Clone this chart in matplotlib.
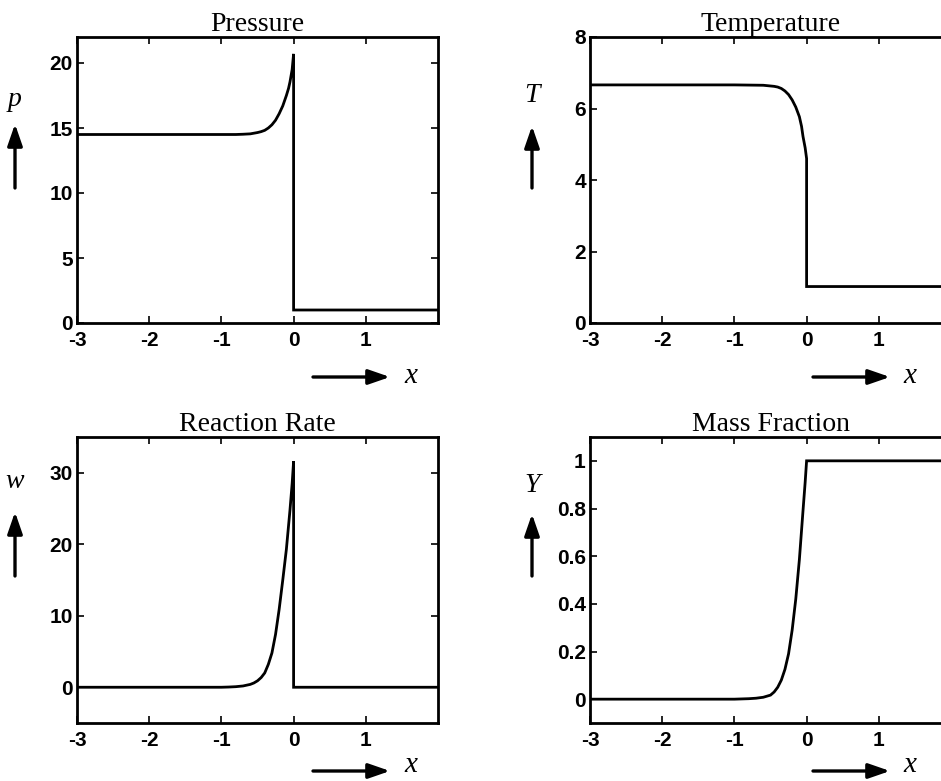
import matplotlib
matplotlib.use("Agg")
import matplotlib.pyplot as plt
from matplotlib.patches import FancyArrowPatch

W, H = 941, 781

# ---- data ----
x_p = [-3.0, -1.0, -0.8, -0.7, -0.6, -0.5, -0.45, -0.4, -0.35, -0.3, -0.25,
       -0.2, -0.15, -0.1, -0.07, -0.05, -0.02, 0.0, 0.0, 2.0]
p_vals = [14.5, 14.5, 14.5, 14.52, 14.55, 14.65, 14.72, 14.82, 15.0, 15.25,
          15.6, 16.1, 16.7, 17.5, 18.05, 18.55, 19.5, 20.7, 1.0, 1.0]

x_T = [-3.0, -1.0, -0.6, -0.5, -0.45, -0.4, -0.35, -0.3, -0.25, -0.2, -0.15,
       -0.1, -0.07, -0.05, -0.02, 0.0, 0.0, 2.0]
T_vals = [6.66, 6.66, 6.65, 6.63, 6.62, 6.6, 6.56, 6.49, 6.39, 6.24, 6.04,
          5.77, 5.5, 5.22, 4.9, 4.6, 1.02, 1.02]

x_w = [-3.0, -1.0, -0.9, -0.8, -0.7, -0.6, -0.55, -0.5, -0.45, -0.4, -0.35,
       -0.3, -0.25, -0.2, -0.15, -0.1, -0.05, -0.02, 0.0, 0.0, 2.0]
w_vals = [0.0, 0.0, 0.03, 0.08, 0.18, 0.4, 0.6, 0.9, 1.35, 2.0, 3.2,
          4.8, 7.4, 10.9, 15.0, 19.3, 24.8, 28.5, 31.6, 0.0, 0.0]

x_Y = [-3.0, -1.0, -0.8, -0.7, -0.6, -0.5, -0.45, -0.4, -0.35, -0.3, -0.25,
       -0.2, -0.15, -0.1, -0.05, -0.02, 0.0, 2.0]
Y_vals = [0.0, 0.0, 0.002, 0.004, 0.008, 0.017, 0.03, 0.05, 0.08, 0.125, 0.19,
          0.29, 0.42, 0.586, 0.79, 0.91, 1.0, 1.0]

titles = ["Pressure", "Temperature", "Reaction Rate", "Mass Fraction"]
ylabels = ["p", "T", "w", "Y"]
xticks = [-3, -2, -1, 0, 1]
yticks_list = [[0, 5, 10, 15, 20], [0, 2, 4, 6, 8], [0, 10, 20, 30],
               [0, 0.2, 0.4, 0.6, 0.8, 1]]
yticklabels_list = [["0", "5", "10", "15", "20"], ["0", "2", "4", "6", "8"],
                    ["0", "10", "20", "30"],
                    ["0", "0.2", "0.4", "0.6", "0.8", "1"]]
ylims = [(0, 22), (0, 8), (-5, 35), (-0.1, 1.1)]

series = [(x_p, p_vals), (x_T, T_vals), (x_w, w_vals), (x_Y, Y_vals)]

fig = plt.figure(figsize=(W / 100, H / 100), dpi=100)


def fx(px):
    return px / W


def fy(py):
    return 1 - py / H


# axes boxes in pixels: left, top, right, bottom
boxes = [(77, 37, 438, 323), (590, 37, 951, 323),
         (77, 437, 438, 723), (590, 437, 951, 723)]
# y label positions (label x,y ; arrow x, y0 (tail), y1 (head))
ylab = [(15, 100, 15, 188, 124), (532, 95, 532, 188, 126),
        (15, 482, 15, 576, 512), (532, 485, 532, 576, 514)]
# x label arrow (x0, x1, y ; label x, label y)
xlab = [(313, 390, 377, 411, 376), (813, 890, 377, 910, 376),
        (313, 390, 771, 411, 765), (813, 890, 771, 910, 765)]

tickfont = {"family": "Liberation Sans", "weight": "bold", "size": 15}
astyle = "-|>,head_length=13,head_width=4.5"

for i in range(4):
    l, t, r, b = boxes[i]
    ax = fig.add_axes([fx(l), fy(b), (r - l) / W, (b - t) / H])
    xs, ys = series[i]
    ax.plot(xs, ys, color="black", lw=2.0, solid_joinstyle="miter")
    ax.set_xlim(-3, 2)
    ax.set_ylim(*ylims[i])
    ax.set_xticks(xticks)
    ax.set_xticklabels([str(v) for v in xticks], fontdict=tickfont)
    ax.set_yticks(yticks_list[i])
    ax.set_yticklabels(yticklabels_list[i], fontdict=tickfont)
    ax.tick_params(direction="in", length=5, width=1.2, top=True, right=True,
                   pad=3)
    ax.tick_params(axis="x", pad=6)
    for s in ax.spines.values():
        s.set_linewidth(2)
    ax.set_title(titles[i], family="Liberation Serif", size=20, pad=4)

    lx, ly, axx, ay0, ay1 = ylab[i]
    fig.text(fx(lx), fy(ly), ylabels[i], family="Liberation Serif",
             style="italic", size=20, ha="center", va="center")
    fig.add_artist(FancyArrowPatch(
        (fx(axx), fy(ay0)), (fx(axx), fy(ay1)), transform=fig.transFigure,
        arrowstyle=astyle, color="black", lw=2.4,
        shrinkA=0, shrinkB=0, mutation_scale=1))

    x0, x1, yy, xl, yl = xlab[i]
    fig.add_artist(FancyArrowPatch(
        (fx(x0), fy(yy)), (fx(x1), fy(yy)), transform=fig.transFigure,
        arrowstyle=astyle, color="black", lw=2.4,
        shrinkA=0, shrinkB=0, mutation_scale=1))
    fig.text(fx(xl), fy(yl), "x", family="Liberation Serif", style="italic",
             size=21, ha="center", va="center")

fig.savefig("out.png", dpi=100)
